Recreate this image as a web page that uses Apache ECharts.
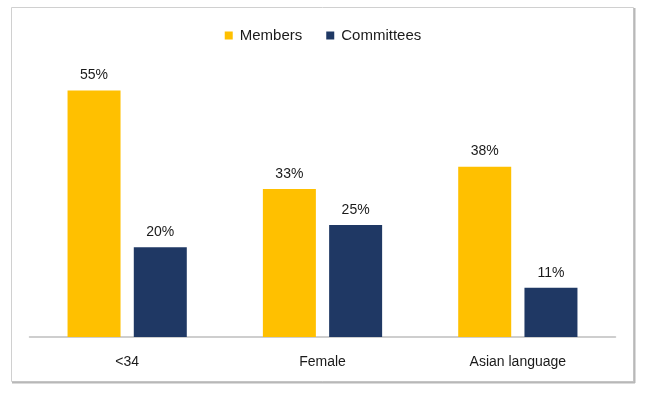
<!DOCTYPE html>
<html><head><meta charset="utf-8">
<script src="https://cdn.jsdelivr.net/npm/echarts@6/dist/echarts.min.js"></script>
<style>html,body{margin:0;padding:0;background:#fff}#c{width:646px;height:395px}</style>
</head><body><div id="c"></div>
<script>
const categories = ['<34', 'Female', 'Asian language'];
const members = [55, 33, 38];
const committees = [20, 25, 11];
const seriesNames = ['Members', 'Committees'];

const chart = echarts.init(document.getElementById('c'));
const font = 'Liberation Sans, Arial, sans-serif';
chart.setOption({
  animation: false,
  backgroundColor: '#fff',
  legend: {
    top: 23, left: 'center', itemWidth: 8, itemHeight: 8, itemGap: 24,
    icon: 'rect',
    textStyle: {fontFamily: font, fontSize: 15, color: '#1a1a1a', padding: [0, 0, 0, 2]},
    data: seriesNames
  },
  grid: {left: 29.5, right: 30.5, top: 68, bottom: 58},
  xAxis: {
    type: 'category', data: categories,
    axisLine: {lineStyle: {color: '#bfbfbf', width: 1.5}},
    axisTick: {show: false},
    axisLabel: {fontFamily: font, fontSize: 14, color: '#1a1a1a', margin: 18}
  },
  yAxis: {type: 'value', min: 0, max: 60, show: false, splitLine: {show: false}},
  series: [
    {name: seriesNames[0], type: 'bar', data: members, barWidth: 53, barGap: '25%',
     itemStyle: {color: '#FFC000'},
     label: {show: true, position: 'top', distance: 8, formatter: '{c}%', fontFamily: font, fontSize: 14, color: '#1a1a1a'}},
    {name: seriesNames[1], type: 'bar', data: committees, barWidth: 53,
     itemStyle: {color: '#1F3864'},
     label: {show: true, position: 'top', distance: 8, formatter: '{c}%', fontFamily: font, fontSize: 14, color: '#1a1a1a'}}
  ],
  graphic: [
    {type: 'rect', shape: {x: 11.5, y: 7.5, width: 622, height: 374}, style: {fill: 'none', stroke: '#d0d0d0', lineWidth: 1}, silent: true},
    {type: 'line', shape: {x1: 634.5, y1: 8, x2: 634.5, y2: 383}, style: {stroke: '#b8b8b8', lineWidth: 2}, silent: true},
    {type: 'line', shape: {x1: 12, y1: 382.5, x2: 635, y2: 382.5}, style: {stroke: '#b8b8b8', lineWidth: 2}, silent: true}
  ]
});
</script></body></html>
